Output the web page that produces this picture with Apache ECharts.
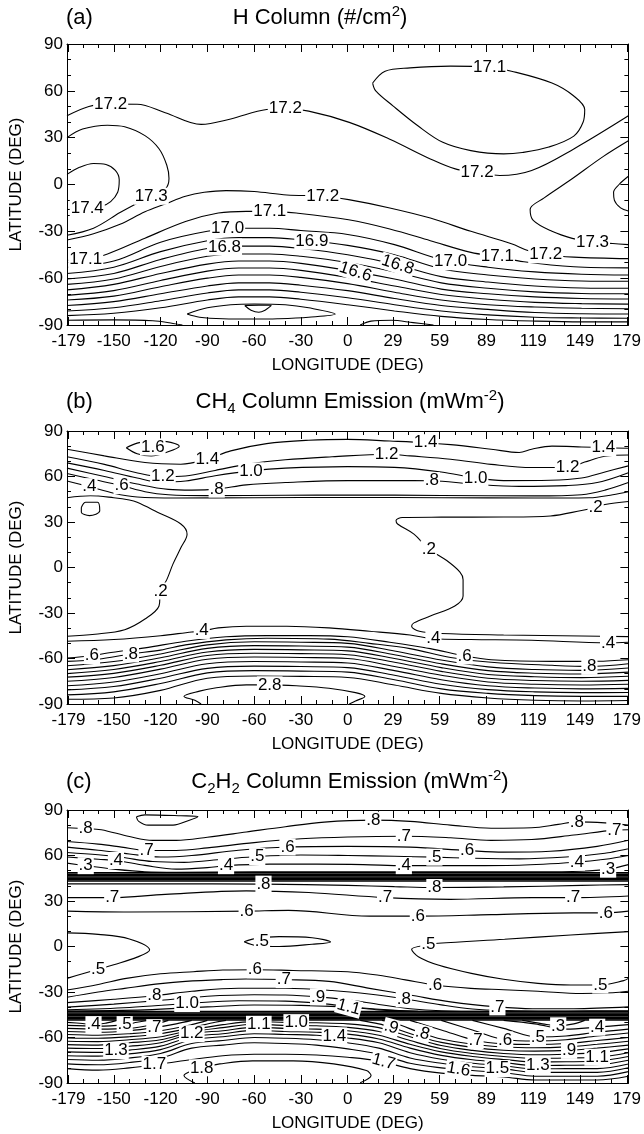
<!DOCTYPE html>
<html><head><meta charset="utf-8">
<script src="https://cdn.jsdelivr.net/npm/echarts@6/dist/echarts.min.js"></script>
<style>html,body{margin:0;padding:0;background:#fff}#c{width:644px;height:1134px}</style>
</head><body><div id="c"></div>
<script>
// ---------- tick labels ----------
const lonTicks = [-179,-150,-120,-90,-60,-30,0,29,59,89,119,149,179];
const panelTags = ['(a)','(b)','(c)'];
const panelTitles = [
  '{n|H Column (#/cm}{sup|2}{n|)}',
  '{n|CH}{sub|4}{n| Column Emission (mWm}{sup|-2}{n|)}',
  '{n|C}{sub|2}{n|H}{sub|2}{n| Column Emission (mWm}{sup|-2}{n|)}'
];
const xName = 'LONGITUDE (DEG)';
const yName = 'LATITUDE (DEG)';

// ---------- panel (a): H column contours [lon, lat] ----------
const aLines = [
  [[16,65],[24,72.6],[40,74.7],[66,75.8],[91,75],[105,72.6],[131,65],[145,56.7],[152,48],[151,40],[145,31],[129,24],[112,20.5],[100,19.6],[79,21.7],[61,27],[45,37.6],[29,50.4],[18,60],[16,65]],
  [[-180,44],[-166,50],[-152,51.5],[-135,51.4],[-117,46],[-94,38.5],[-75,42],[-52,48],[-40,48.5],[-25,47],[1,39.8],[27,29],[53,16.4],[69,10],[83,8],[97.5,5.8],[118,9],[145,22.8],[180,44]],
  [[-180,30],[-170,35.5],[-154,38],[-143,37],[-130,31.3],[-121,22.9],[-116,12.3],[-114.6,3.8],[-117,-3],[-126,-7.5],[-135,-12],[-146,-18],[-163,-28],[-180,-32.5]],
  [[-180,6.5],[-172,11],[-163,13.5],[-155,12.8],[-149,9],[-146.5,3],[-147.5,-5],[-152,-11],[-158,-14],[-170,-15.5],[-180,-16]],
  [[-180,-35.5],[-163,-31.5],[-146,-25.5],[-130,-17.5],[-117,-12.5],[-104,-7.5],[-92,-5],[-78,-3.9],[-60,-4.5],[-39,-6.7],[-16,-7.5],[0.6,-9.7],[27,-15],[53,-21.5],[79,-30],[105,-38],[116,-42.5],[127,-45],[145,-46.5],[180,-47.5]],
  [[180,28],[164,18],[143,3],[126,-8.6],[117,-16],[119,-23],[131,-30],[144,-34.5],[157,-37],[170,-37.8],[180,-38.5]],
  [[180,5.3],[174,0],[170.5,-5],[171,-10],[175,-15],[180,-17]],
  [[-180,-48.5],[-168,-48],[-154,-44.5],[-130,-34.4],[-104,-23.7],[-83,-18.3],[-65,-17.2],[-50,-17.2],[-33,-18.3],[0.6,-22.6],[27,-28.5],[53,-36],[79,-43.5],[96,-46.3],[113,-49.5],[145,-52.7],[180,-53.4]],
  [[-180,-87],[-150,-86.7],[-125,-87.3],[-112,-89],[-106,-90]],
  [[8,-90],[15,-87.5],[28,-87],[42,-88.5],[55,-90]],
  [[-103,-83],[-90,-79],[-75,-77],[-60,-76.5],[-40,-77],[-25,-79],[-8,-83],[-25,-85],[-45,-86],[-60,-86.2],[-80,-86],[-95,-85],[-103,-83]],
  [[-66,-77.5],[-57,-77.3],[-49,-77.5],[-53,-80.5],[-57,-81.8],[-62,-80.5],[-66,-77.5]]
];
const aLons = [-180,-150,-120,-90,-70,-50,-30,0,30,60,90,120,150,180];
const aBand = [
  [-53,-49,-37,-30,-28,-28,-29.5,-32,-38.5,-48,-53,-56,-57.5,-58],
  [-57,-53,-43,-36,-34,-34,-35.5,-39,-45,-54,-58,-60.5,-61.8,-62],
  [-60.5,-57,-48,-41,-39.5,-39.5,-41,-45,-51,-59,-62.5,-65,-66.3,-66.5],
  [-64,-60.5,-52.5,-46,-44.5,-44.5,-46,-50,-56,-63,-66.5,-68.8,-69.8,-70],
  [-67.5,-64,-57,-51,-49,-49,-50.5,-55,-60.5,-67,-70,-72,-73,-73.3],
  [-71,-68,-61.5,-55.5,-53.5,-53.5,-55,-59.5,-65,-70.5,-73.5,-75.5,-76.3,-76.6],
  [-74,-71.5,-65.5,-60,-58,-58,-59.5,-63.5,-69,-74,-77,-78.5,-79.3,-79.6],
  [-77.5,-75,-70,-65,-63,-63,-64.5,-68,-73,-77.5,-80,-82,-82.8,-83],
  [-81,-79,-74.5,-69.5,-67.5,-67.5,-69,-72.5,-77,-81,-83.5,-85,-85.5,-85.7],
  [-84,-82.5,-79,-74,-72,-72,-73.5,-77,-81,-84.5,-86.5,-87.5,-88,-88]
];
const aLabels = [
  ['17.1',91,75.3],['17.2',-152,51.5],['17.2',-40,48.5],['17.2',83,8],['17.3',-126,-7.5],['17.4',-167,-15.3],
  ['17.2',-16,-7.5],['17.1',-50,-17.2],['17.0',-77,-28],['16.9',-23,-36.3],['16.8',-79,-40],['16.6',5,-56,-18],
  ['16.8',32,-51.5,-18],['17.0',66,-49.5],['17.1',96,-46.3],['17.2',127,-45],['17.3',157,-37],['17.1',-168,-48]
];

// ---------- panel (b): CH4 emission contours ----------
const bLines = [
  [[-142,79],[-135,82],[-126,83.5],[-116,83],[-108,80],[-116,76],[-126,73.5],[-135,75],[-142,79]],
  [[-180,78],[-156,73.6],[-130,69.2],[-107,68.1],[-90,71.4],[-75,76.9],[-52,81.7],[-25,83.9],[0,84.5],[27,83.4],[50,82.3],[66,81],[92,78],[110,75.8],[118,78],[131,80],[150,79.5],[164,79],[180,78.6]],
  [[-180,73],[-156,68],[-136,62.6],[-118.5,59.8],[-104,60.3],[-85,64],[-65,68],[-40,71],[-10,73],[25,74.7],[40,73.6],[66,71.4],[92,68],[118,65.9],[141,65.9],[152,69.5],[165,73.3],[180,74.2]],
  [[-180,69],[-156,64],[-135,59],[-120,56.3],[-104,57],[-85,60.5],[-62,63.7],[-40,65.5],[0,66.5],[30,66],[60,63],[82,59],[100,57.3],[130,57.5],[150,59],[165,63],[180,67]],
  [[-180,65.5],[-156,60],[-135,55],[-115,51.5],[-100,51],[-84,51.7],[-65,54.5],[-40,56],[0,57.3],[30,57.3],[54,57.2],[80,55],[110,53.5],[140,54],[160,56],[180,62.5]],
  [[-180,62],[-165,58.5],[-145,54],[-130,50],[-115,48],[-90,47.4],[-40,47.6],[0,47.8],[60,47.5],[120,47.2],[150,48],[165,51],[180,56]],
  [[-180,57],[-165.6,53.3],[-150,49],[-135,46.5],[-110,45.8],[-60,46],[0,46.2],[60,46],[120,45.8],[155,46],[170,48],[180,50]],
  [[-180,46],[-165,47.3],[-150,46],[-140,44.5],[-135,43],[-122,36.5],[-107,28.7],[-103,22],[-107,13],[-112,2.4],[-116,-8],[-120,-15.5],[-121,-25.4],[-130,-34],[-143,-41],[-162,-44],[-180,-45.3]],
  [[180,43.5],[165,41.5],[159,39.6],[150,37.6],[130,34],[100,33.3],[60,33.2],[35,33],[31,31],[32,28.7],[42.5,22],[52,12.3],[63.5,4.6],[72,-3],[74,-8],[74,-18.8],[68.7,-25.4],[53,-32],[42.5,-36.5],[41,-38.7],[46,-42],[60,-43.5],[100,-44.5],[150,-45.2],[180,-45.6]],
  [[-170.8,39.6],[-168,43],[-160.4,43],[-159,37.4],[-165.6,34.2],[-170.8,36.5],[-170.8,39.6]],
  [[-180,-48.6],[-150,-47.5],[-120,-45],[-100,-42.5],[-93.6,-42],[-83,-39.8],[-65,-38.7],[-39,-38.7],[-12,-39.8],[14,-42],[40,-44.5],[55,-47],[79,-47.5],[118,-48],[167,-49.7],[180,-49.3]],
  [[-180,-59.7],[-164,-58.2],[-154,-56.4],[-130,-53],[-104,-48.6],[-78,-45.7],[-52,-44.9],[-25,-44.9],[0,-45.7],[27,-49.3],[53,-53.5],[75,-58.3],[92,-60.8],[131,-61.9],[160,-61.8],[180,-60.8]],
  [[-180,-61.9],[-160,-60.5],[-139,-57],[-120,-54.5],[-104,-51],[-78,-47.7],[-52,-46.6],[-12,-47.2],[14,-50],[40,-53.5],[66,-59.3],[92,-62.5],[131,-64.5],[155,-65.2],[180,-63.5]],
  [[-94,-90],[-98,-87.5],[-105,-85],[-95,-81.5],[-86,-79.6],[-65,-77.4],[-50,-77.4],[-33,-78],[-12,-79.6],[5,-82.5],[11,-85],[5,-88],[1,-90]]
];
const bLons = [-180,-150,-120,-90,-60,-30,0,30,60,90,120,150,180];
const bBand = [
  [-64.8,-62,-57,-51,-49,-49.3,-50,-55,-61,-65.5,-67.3,-67.8,-66.3],
  [-67.4,-64.7,-59.5,-53.3,-51.5,-51.8,-52.5,-57.5,-63.5,-68,-69.7,-70.2,-69],
  [-70,-67.3,-62,-55.7,-54,-54.3,-55,-60,-66,-70.5,-72,-72.6,-71.7],
  [-72.3,-69.8,-64.5,-58,-56.5,-56.8,-57.5,-62.5,-68.5,-73,-74.5,-75,-74.4],
  [-75,-72.5,-67,-60.5,-59,-59.3,-60,-65.3,-71,-75.5,-77,-77.5,-77],
  [-78,-75.5,-70,-63.5,-62,-62.3,-63,-68,-74,-78,-79.5,-80,-79.7],
  [-80.7,-78.5,-73,-66.5,-65,-65.3,-66,-71,-77,-80.5,-82,-82.5,-82.4],
  [-84,-82,-76.5,-69.5,-68,-68.3,-69,-74,-80,-83,-84.5,-85,-85],
  [-86.9,-86,-81,-73,-71.5,-71.8,-72.5,-77.5,-83,-86,-87.5,-88,-87.7]
];
const bLabels = [
  ['1.6',-125,79.5],['1.4',-90,71.4],['1.2',-118.5,59.8],['1.0',-62,63.7],['.8',-84,51.7],['.6',-145,54],['.4',-165.6,53.3],
  ['1.4',50,82.3],['1.2',25,74.7],['1.0',82,59],['.8',54,57.2],['1.4',164,79],['1.2',141,65.9],['.2',159,39.6],
  ['.2',52,12.3],['.2',-120,-15.5],['.4',-93.6,-41.5],['.4',55,-47],['.4',167,-49.7],['.6',-164,-58.2],['.8',-139,-57],
  ['.6',75,-58.3],['.8',155,-65.2],['2.8',-50,-77.4]
];

// ---------- panel (c): C2H2 emission contours ----------
const cLines = [
  [[-135.5,85.5],[-134,82.5],[-128,80],[-112,80],[-101.5,83.3],[-96,85.6],[-107,86.2],[-130,86.8],[-135.5,85.5]],
  [[-180,78.3],[-168,77.8],[-158,77],[-140,72.5],[-125,70],[-110,70],[-90,72],[-65,75.5],[-40,79],[-15,82],[16,83.3],[40,82.5],[66,80],[92,78],[118,78.3],[135,80.5],[147,82.2],[165,81.5],[180,80]],
  [[-180,69.2],[-160,67.5],[-145,65.5],[-129,63.3],[-110,63.3],[-90,65],[-60,68.5],[-30,71],[0,72.2],[36,72.7],[66,71.7],[92,70],[118,70.5],[145,73.5],[171,76.7],[180,77]],
  [[-180,65.5],[-160,63.5],[-140,61],[-120,59],[-100,60],[-70,63.5],[-38.6,65.6],[0,66],[40,65.5],[76.6,63.3],[100,62.2],[130,62.8],[160,66],[180,70]],
  [[-180,62],[-160,60.5],[-145,58.8],[-125,56],[-105,55.5],[-80,57.5],[-58,59.3],[-30,60.3],[0,60],[30,59.5],[55.6,58.9],[80,58.2],[110,57.8],[140,59],[165,61.5],[180,64.5]],
  [[-180,59],[-160,57.5],[-148.6,56.7],[-130,53.5],[-110,51],[-90,52],[-78,53.3],[-50,54.3],[-20,54.3],[10,54],[36,53.3],[70,53.3],[110,53.6],[147,55.6],[165,57.5],[180,60]],
  [[-180,55],[-168,53.3],[-150,51],[-130,49.3],[-110,49],[-60,49.2],[0,49.3],[60,49.2],[120,49.2],[150,49.6],[167,51],[180,54]],
  [[-180,41.3],[-120,41.3],[-54,41.1],[0,40.3],[30,39.5],[55.6,38.9],[100,39.3],[150,40.3],[180,40.8]],
  [[-180,32.2],[-151,32.2],[-117,34.4],[-65,36.7],[-25,35.6],[24,32.2],[66,31.1],[118,32.2],[145,32.2],[180,33.3]],
  [[-180,23.3],[-140,22.7],[-65,23.3],[-38,23.8],[14,20],[45,20],[92,21],[145,22.2],[166,22.2],[180,23.3]],
  [[-180,9],[-160,8],[-140,5],[-127,-2.3],[-135,-7],[-150,-12],[-160,-15],[-170,-18],[-180,-21]],
  [[-66.4,3.2],[-58,5.5],[-44,6.5],[-22.8,5.8],[-11,3],[-22.8,1.5],[-44,0],[-58,0.5],[-66.4,3.2]],
  [[180,9.8],[143,7.6],[100.6,4.8],[58,2.1],[51.7,1.2],[41,-1.8],[45.3,-6.7],[58,-12.2],[79.3,-17.7],[100,-21.6],[122,-24.3],[143,-25.4],[162,-25.4],[177,-22.5],[180,-21]],
  [[-180,-28.7],[-160,-25],[-142,-21],[-120,-18],[-99,-16.6],[-80,-15.5],[-59,-15.3],[-35,-15.8],[0,-16.6],[20,-19],[37,-22],[56,-25.4],[79,-27.6],[100,-28.5],[122,-29.5],[150,-31],[170,-30.5],[180,-29.5]],
  [[-180,-33.5],[-160,-30],[-143,-27.6],[-120,-24.5],[-104,-23],[-80,-21.8],[-65,-21.4],[-41,-21.8],[-12,-23],[14,-27.6],[40,-32],[66,-36.5],[96,-39.8],[118.5,-41],[145,-41],[180,-39.8]],
  [[-180,-37],[-150,-34.8],[-124,-32.5],[-100,-29.5],[-70,-27.5],[-40,-27.5],[-10,-29],[15,-31.5],[36,-34.5],[60,-38.5],[80,-41.2],[100,-42.2],[140,-42.5],[180,-42.4]],
  [[-180,-40],[-150,-38],[-120,-35.5],[-90,-32.8],[-60,-31.8],[-40,-32],[-19,-33.2],[0,-35.2],[20,-38.2],[40,-41],[60,-42.4],[90,-42.8]],
  [[-180,-41.8],[-140,-40.2],[-103,-37.6],[-70,-35.8],[-40,-36],[-15,-37.8],[10,-40.6],[40,-42.6],[60,-42.9]],
  [[-180,-42.5],[-130,-41.8],[-90,-39.8],[-60,-38.6],[-30,-38.8],[0.6,-40],[20,-41.8],[45,-42.8]],
  [[112,-48.7],[125,-51],[135,-52.3],[145,-51],[152,-48.7]],
  [[-180,-50],[-170,-50.8],[-163,-51.5],[-155,-50.5],[-148,-48.7]],
  [[100,-48.7],[120,-51],[140,-54.5],[160,-53.2],[180,-51.5]],
  [[-180,-52],[-160,-52.5],[-143,-51.5],[-135,-50],[-128,-48.7]],
  [[80,-48.7],[100,-54],[122,-59.7],[140,-59],[160,-56.5],[180,-54.5]],
  [[-180,-54],[-160,-54.5],[-140,-54],[-125,-51.5],[-115,-48.7]],
  [[60,-48.7],[80,-55],[101,-61.5],[120,-62.3],[140,-61.5],[160,-59],[180,-57]],
  [[-180,-56],[-160,-56.5],[-140,-55.5],[-124,-53.5],[-110,-51],[-100,-48.7]],
  [[40,-48.7],[60,-55],[82,-62],[100,-64.2],[120,-64.6],[140,-64],[160,-62],[180,-60]],
  [[-180,-58],[-160,-58.5],[-140,-57.5],[-120,-55.5],[-100,-51.5],[-90,-48.7]],
  [[22,-48.7],[30,-50.5],[48,-57.3],[60,-61],[80,-64.5],[100,-66.3],[120,-66.8],[140,-66.2],[160,-64.5],[180,-62.5]],
  [[-180,-60.3],[-160,-60.5],[-140,-59.5],[-120,-57.5],[-100,-53.5],[-85,-50],[-78,-48.7]],
  [[8,-48.7],[20,-51],[28,-53.3],[48,-60],[60,-63.2],[80,-66.5],[100,-68.4],[120,-69],[142,-68.5],[160,-67],[180,-65]],
  [[-98,-90],[-105,-85.1],[-97,-81],[-90,-79.2],[-82,-77.4],[-61,-75.4],[-35,-75.4],[-9,-77.4],[12,-81.8],[15,-85.1],[8,-89.8]]
];
// dense jump bands near 45N and 45S (latitudes of the packed contours)
const cBandN = [48.6,47.7,46.8,45.9,45.0,44.1,43.2];
const cBandS = [-42.9,-43.8,-44.7,-45.6,-46.6,-47.6,-48.5];
const cLons = [-180,-160,-140,-120,-100,-80,-60,-40,-20,0,20,40,60,80,100,120,140,160,180];
const cBand = [
  [-62.5,-62.7,-61.5,-59.5,-55,-51.5,-49.5,-50,-50.3,-51,-53.5,-59.5,-65.3,-68.5,-70.5,-71.4,-71,-70,-67.5],
  [-64.7,-65,-63.5,-61.5,-56.3,-53.5,-51.3,-52,-52.3,-53.3,-56,-62,-67.4,-70.5,-72.5,-73.7,-73.5,-73,-70],
  [-67,-67.3,-65.8,-63.5,-57.5,-55.5,-53.3,-54,-54.5,-55.5,-58.5,-64.5,-69.5,-72.5,-74.5,-76.1,-76,-75.5,-72.5],
  [-69.5,-69.8,-68.3,-65.7,-59.5,-57.5,-55.3,-56,-56.5,-57.8,-61,-67,-71.8,-74.7,-76.5,-78.5,-78.3,-78,-75],
  [-72,-72.3,-70.8,-68,-61.5,-59.5,-57.5,-58,-58.5,-60.3,-63.5,-70,-74.3,-77,-78.6,-80.8,-80.5,-80.5,-77.5],
  [-74.5,-75,-73.5,-70.5,-64,-62,-60,-60.5,-61.5,-63.5,-67,-73.5,-77,-79.3,-80.7,-83,-83,-83,-80],
  [-77.4,-78,-76.5,-73.5,-67,-65,-63.5,-64,-65,-67.5,-71,-77,-80,-81.8,-83.2,-85.5,-85.5,-85.5,-82.5],
  [-80.5,-81.5,-80,-77.5,-74.5,-72,-71,-71,-71.5,-73,-75.5,-80.5,-83.5,-85,-86,-88,-88,-88,-85.5]
];
const cLabels = [
  ['.8',-168,77.8],['.7',-129,63.3],['.4',-148.6,56.7],['.3',-168,53.3],['.6',-38.6,65.6],['.5',-58,59.3],['.4',-78,53.3],
  ['.8',16.4,83.3],['.7',36,72.7],['.6',76.6,63.3],['.5',55.6,58.9],['.4',36,53.3],['.8',147,82.2],['.7',171,76.7],
  ['.4',147,55.6],['.3',167,51],['.8',-54,41.1],['.8',55.6,38.9],['.7',-151,32.2],['.7',24,32.2],['.7',144.6,32.2],
  ['.6',-64.8,23.3],['.6',45,20],['.6',165.6,22.2],['.5',-55,3.2],['.5',51.7,1.2],['.5',-160,-15],['.6',-59.6,-15.3],
  ['.7',-41,-21.8],['.6',56,-25.4],['.5',162,-25.4],['.8',-124,-32.5],['1.0',-103,-37.6],['.9',-19,-33.2],['1.1',0.6,-40,-15],
  ['.8',36,-34.5],['.7',96,-39.8],['.4',-163,-51.5],['.5',-143,-51.5],['.7',-124,-53.5],['1.2',-100,-57.5],['1.1',-57,-51.3],
  ['1.0',-33,-50.2],['1.4',-8.5,-59],['.9',28,-53.3,-15],['.8',48,-57.3,-15],['.7',82,-62],['.6',101,-61.6],['.5',122,-59.7],
  ['.3',135,-52.3],['.4',160,-53.2],['.9',142,-68.5],['1.1',160,-73],['1.3',122,-78.5],['1.5',96,-80.5],['1.6',71,-81,-10],
  ['1.7',23,-76,-15],['1.8',-93.6,-80],['1.7',-124,-77.8],['1.3',-148.6,-68.7]
];

// ---------- build ----------
const FONT = 'Liberation Sans';
const FS = 17;
const minorLon = [];
for (let i = 0; i < lonTicks.length - 1; i++) {
  const a = lonTicks[i], b = lonTicks[i + 1];
  minorLon.push(a + (b - a) / 3, a + 2 * (b - a) / 3);
}
function famToLines(lons, fam) {
  return fam.map(row => row.map((v, i) => [lons[i], v]));
}
function flatLines(lats) {
  return lats.map(v => [[-180, v], [0, v], [180, v]]);
}
const panels = [
  {lines: aLines.concat(famToLines(aLons, aBand)), bands: [], labels: aLabels, top: 44, height: 281, ty: 18, tx: 320},
  {lines: bLines.concat(famToLines(bLons, bBand)), bands: [], labels: bLabels, top: 431, height: 273, ty: 402, tx: 350},
  {lines: cLines.concat(famToLines(cLons, cBand)), bands: flatLines(cBandN).concat(flatLines(cBandS)), labels: cLabels, top: 810, height: 273, ty: 782, tx: 350}
];

const grid = [], xAxis = [], yAxis = [], series = [], graphic = [];
const black = {color: '#000', width: 1};
const txt = {fontSize: FS, fontFamily: FONT, color: '#000'};
panels.forEach((p, g) => {
  grid.push({left: 67, width: 564, top: p.top, height: p.height});
  const base = {gridIndex: g, type: 'value', min: -180, max: 180, splitLine: {show: false}};
  xAxis.push(Object.assign({}, base, {position: 'bottom', axisLine: {show: true, onZero: false, lineStyle: black},
    axisTick: {show: true, inside: true, length: 4, customValues: minorLon, lineStyle: black}, axisLabel: {show: false}}));
  xAxis.push(Object.assign({}, base, {position: 'bottom', axisLine: {show: false, onZero: false},
    axisTick: {show: true, inside: true, length: 8, customValues: lonTicks, lineStyle: black},
    axisLabel: Object.assign({show: true, customValues: lonTicks, margin: 8}, txt),
    name: xName, nameLocation: 'middle', nameGap: 32, nameTextStyle: txt}));
  xAxis.push(Object.assign({}, base, {position: 'top', axisLine: {show: true, onZero: false, lineStyle: black},
    axisTick: {show: true, inside: true, length: 4, customValues: minorLon, lineStyle: black}, axisLabel: {show: false}}));
  xAxis.push(Object.assign({}, base, {position: 'top', axisLine: {show: false, onZero: false},
    axisTick: {show: true, inside: true, length: 8, customValues: lonTicks, lineStyle: black}, axisLabel: {show: false}}));
  const ybase = {gridIndex: g, type: 'value', min: -90, max: 90, interval: 30, splitLine: {show: false}, minorSplitLine: {show: false},
    axisLine: {show: true, onZero: false, lineStyle: black},
    axisTick: {show: true, inside: true, length: 8, lineStyle: black},
    minorTick: {show: true, splitNumber: 3, length: 4, lineStyle: black}};
  yAxis.push(Object.assign({}, ybase, {position: 'left',
    axisLabel: Object.assign({show: true, margin: 4}, txt),
    name: yName, nameLocation: 'middle', nameGap: 42, nameRotate: 90, nameTextStyle: txt}));
  yAxis.push(Object.assign({}, ybase, {position: 'right', axisLabel: {show: false}}));

  p.lines.forEach(pts => series.push({
    type: 'line', xAxisIndex: g * 4, yAxisIndex: g * 2, data: pts, symbol: 'none', showSymbol: false,
    smooth: 0.35, lineStyle: {color: '#000', width: 1.1}, silent: true, z: 2, animation: false
  }));
  p.bands.forEach(pts => series.push({
    type: 'line', xAxisIndex: g * 4, yAxisIndex: g * 2, data: pts, symbol: 'none', showSymbol: false,
    lineStyle: {color: '#000', width: 1.5}, silent: true, z: 2, animation: false
  }));
  series.push({
    type: 'scatter', xAxisIndex: g * 4, yAxisIndex: g * 2, symbolSize: 1, z: 10, silent: true, animation: false,
    itemStyle: {color: 'rgba(255,255,255,0)', opacity: 1},
    data: p.labels.map(l => ({value: [l[1], l[2]], name: l[0], label: {rotate: l[3] || 0}})),
    label: {show: true, position: 'inside', formatter: q => q.name, fontSize: FS, fontFamily: FONT, color: '#000',
      opacity: 1, backgroundColor: '#fff', padding: [0, 1]}
  });

  graphic.push({type: 'text', x: 66, y: p.ty, style: {text: panelTags[g], font: '22px "Liberation Sans"', fill: '#000',
    textAlign: 'left', textVerticalAlign: 'middle'}});
  graphic.push({type: 'text', x: p.tx, y: p.ty, style: {text: panelTitles[g], fill: '#000', textAlign: 'center', textVerticalAlign: 'middle',
    rich: {n: {fontSize: 22, fontFamily: FONT, lineHeight: 28, fill: '#000'},
           sup: {fontSize: 15, fontFamily: FONT, lineHeight: 16, verticalAlign: 'top', fill: '#000'},
           sub: {fontSize: 15, fontFamily: FONT, lineHeight: 16, verticalAlign: 'bottom', fill: '#000'}}}});
});

const chart = echarts.init(document.getElementById('c'), null, {renderer: 'canvas'});
chart.setOption({animation: false, backgroundColor: '#fff', grid, xAxis, yAxis, series, graphic});
</script></body></html>
